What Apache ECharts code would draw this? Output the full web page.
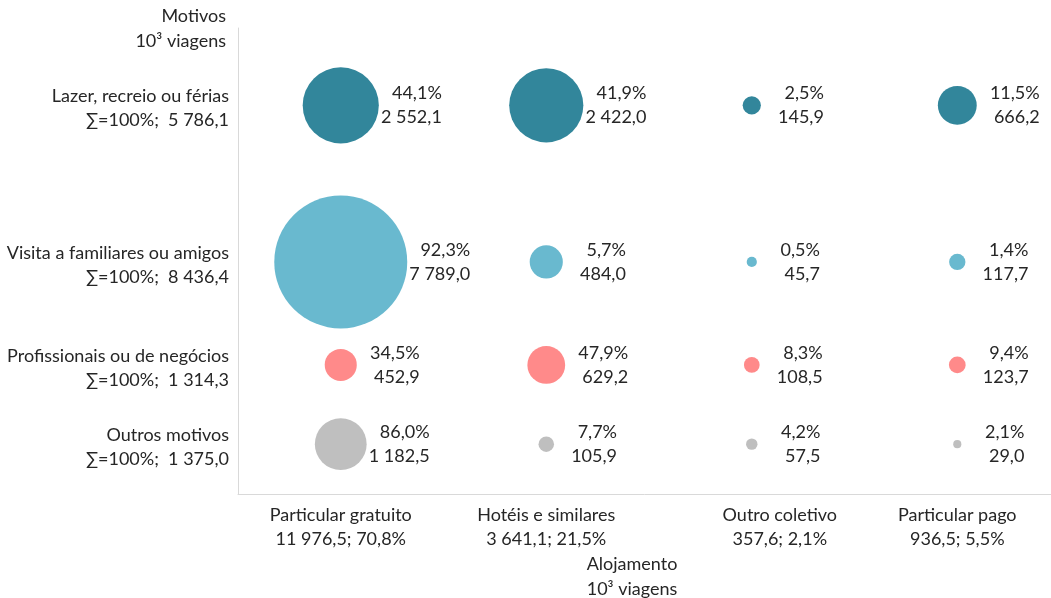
<!DOCTYPE html>
<html>
<head>
<meta charset="utf-8">
<script src="https://cdn.jsdelivr.net/npm/echarts@6/dist/echarts.min.js"></script>
<style>
html,body{margin:0;padding:0;background:#fff;}
#c{width:1051px;height:598px;}
</style>
</head>
<body>
<div id="c"></div>
<script>
// ---- data ----
const alojamento = ['Particular gratuito', 'Hotéis e similares', 'Outro coletivo', 'Particular pago'];
const alojTotals = [11976.5, 3641.1, 357.6, 936.5];
const alojShares = [70.8, 21.5, 2.1, 5.5];

const motivos = ['Lazer, recreio ou férias', 'Visita a familiares ou amigos', 'Profissionais ou de negócios', 'Outros motivos'];
const motivoTotals = [5786.1, 8436.4, 1314.3, 1375.0];
const motivoLevels = [8.34, 4.98, 2.77, 1.07];

const lazerValues = [2552.1, 2422.0, 145.9, 666.2];
const lazerPct = [44.1, 41.9, 2.5, 11.5];
const visitaValues = [7789.0, 484.0, 45.7, 117.7];
const visitaPct = [92.3, 5.7, 0.5, 1.4];
const profValues = [452.9, 629.2, 108.5, 123.7];
const profPct = [34.5, 47.9, 8.3, 9.4];
const outrosValues = [1182.5, 105.9, 57.5, 29.0];
const outrosPct = [86.0, 7.7, 4.2, 2.1];

// ---- styling ----
const FONT = 'Lato';
const FS = 18;
const TXT = '#262626';
const colors = ['#32869B', '#69B9CF', '#FF8A8A', '#BFBFBF'];

function fmt(v) {
  const s = v.toFixed(1).split('.');
  return s[0].replace(/\B(?=(\d{3})+(?!\d))/g, ' ') + ',' + s[1];
}

const rowsValues = [lazerValues, visitaValues, profValues, outrosValues];
const rowsPct = [lazerPct, visitaPct, profPct, outrosPct];

const bubbleSeries = motivos.map((m, r) => ({
  type: 'scatter',
  name: m,
  clip: false,
  data: rowsValues[r].map((v, c) => [c + 1, motivoLevels[r], v, rowsPct[r][c]]),
  symbolSize: d => 1.507 * Math.sqrt(d[2]),
  itemStyle: { color: colors[r], opacity: 1 },
  label: {
    show: true,
    position: 'right',
    distance: 3,
    formatter: p => '{a|' + fmt(p.data[3]) + '%}\n{a|' + fmt(p.data[2]) + '}',
    rich: {
      a: { width: 60, align: 'right', fontFamily: FONT, fontSize: FS, color: TXT, lineHeight: 24 }
    }
  },
  emphasis: { disabled: true }
}));

const rowLabelSeries = {
  type: 'scatter',
  clip: false,
  silent: true,
  symbolSize: 0,
  itemStyle: { color: TXT, opacity: 1 },
  data: motivoLevels.map((l, i) => [0.5, l, i]),
  label: {
    show: true,
    position: 'left',
    distance: 9,
    offset: [0, 3],
    align: 'right',
    formatter: p => '{t|' + motivos[p.data[2]] + '}\n{t|\u2211=100%;  ' + fmt(motivoTotals[p.data[2]]) + '}',
    rich: {
      t: { fontFamily: FONT, fontSize: FS, color: TXT, lineHeight: 24, align: 'right' }
    }
  },
  emphasis: { disabled: true }
};

const chart = echarts.init(document.getElementById('c'));
chart.setOption({
  backgroundColor: '#fff',
  animation: false,
  grid: { left: 238, top: 28, right: 0, bottom: 104 },
  xAxis: {
    type: 'value',
    min: 0.5,
    max: 4.456,
    splitLine: { show: false },
    axisTick: { show: false },
    axisLine: { show: true, lineStyle: { color: '#D9D9D9', width: 1 } },
    axisLabel: {
      customValues: [1, 2, 3, 4],
      margin: 9,
      formatter: v => {
        const i = Math.round(v) - 1;
        const st = i === 2 ? 's' : 'n';
        return '{' + st + '|' + alojamento[i] + '}\n{' + st + '|' + fmt(alojTotals[i]) + '; ' + fmt(alojShares[i]) + '%}';
      },
      rich: {
        n: { fontFamily: FONT, fontSize: FS, color: TXT, lineHeight: 24 },
        s: { fontFamily: FONT, fontSize: FS, color: TXT, lineHeight: 24, padding: [0, 0, 0, 56] }
      }
    }
  },
  yAxis: {
    type: 'value',
    min: 0,
    max: 10,
    splitLine: { show: false },
    axisTick: { show: false },
    axisLabel: { show: false },
    axisLine: { show: true, lineStyle: { color: '#D9D9D9', width: 1 } }
  },
  graphic: [
    { type: 'text', x: 226, y: 4, style: { text: 'Motivos\n10³ viagens', align: 'right', verticalAlign: 'top', fontFamily: FONT, fontSize: FS, fill: TXT, lineHeight: 25 } },
    { type: 'text', x: 632, y: 552, style: { text: 'Alojamento\n10³ viagens', align: 'center', verticalAlign: 'top', fontFamily: FONT, fontSize: FS, fill: TXT, lineHeight: 25 } }
  ],
  series: bubbleSeries.concat([rowLabelSeries])
});
</script>
</body>
</html>
